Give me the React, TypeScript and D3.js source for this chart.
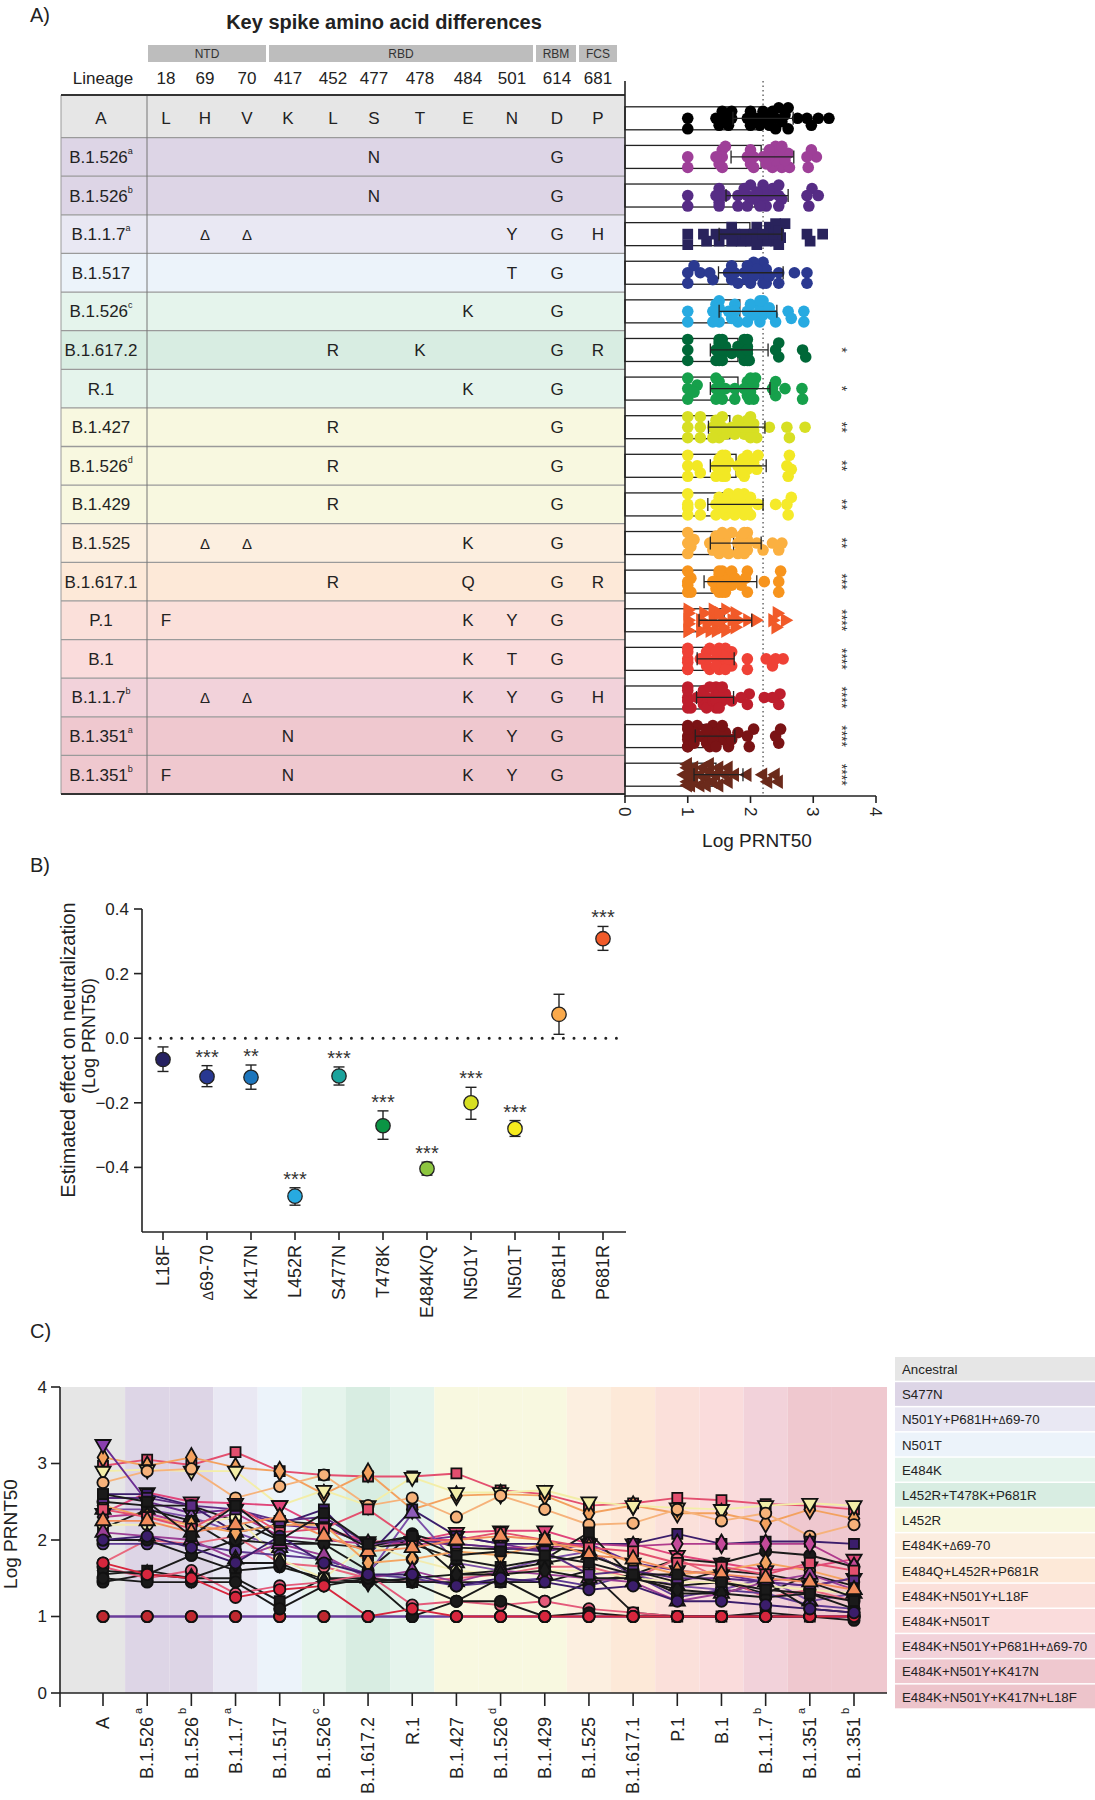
import React, { useEffect } from "react";
import * as d3 from "d3";

const FONT = "'Liberation Sans', Arial, Helvetica, sans-serif";
const W = 1095;
const H = 1800;

// ---------- Panel A: table ----------
const lineageNames = ["A", "B.1.526", "B.1.526", "B.1.1.7", "B.1.517", "B.1.526", "B.1.617.2", "R.1", "B.1.427", "B.1.526", "B.1.429", "B.1.525", "B.1.617.1", "P.1", "B.1", "B.1.1.7", "B.1.351", "B.1.351"];
const lineageSups = ["", "a", "b", "a", "", "c", "", "", "", "d", "", "", "", "", "", "b", "a", "b"];
const lineageFills = ["#e6e6e6", "#ddd5e6", "#ddd5e6", "#e9e8f3", "#ecf3fa", "#e5f4ec", "#d8ede2", "#e5f4ec", "#f8f8e0", "#f8f8e0", "#f8f8e0", "#fcefe0", "#fde9d8", "#fbe0da", "#fadcdc", "#f2d2da", "#efc8cf", "#efc8cf"];
const regionNames = ["NTD", "RBD", "RBM", "FCS"];
const regionFirst = ["18", "417", "614", "681"];
const regionLast = ["70", "501", "614", "681"];
const aaPositions = ["18", "69", "70", "417", "452", "477", "478", "484", "501", "614", "681"];
const ancestralResidues = ["L", "H", "V", "K", "L", "S", "T", "E", "N", "D", "P"];
const substitutions = [
  ["", "", "", "", "", "N", "", "", "", "G", ""],
  ["", "", "", "", "", "N", "", "", "", "G", ""],
  ["", "Δ", "Δ", "", "", "", "", "", "Y", "G", "H"],
  ["", "", "", "", "", "", "", "", "T", "G", ""],
  ["", "", "", "", "", "", "", "K", "", "G", ""],
  ["", "", "", "", "R", "", "K", "", "", "G", "R"],
  ["", "", "", "", "", "", "", "K", "", "G", ""],
  ["", "", "", "", "R", "", "", "", "", "G", ""],
  ["", "", "", "", "R", "", "", "", "", "G", ""],
  ["", "", "", "", "R", "", "", "", "", "G", ""],
  ["", "Δ", "Δ", "", "", "", "", "K", "", "G", ""],
  ["", "", "", "", "R", "", "", "Q", "", "G", "R"],
  ["F", "", "", "", "", "", "", "K", "Y", "G", ""],
  ["", "", "", "", "", "", "", "K", "T", "G", ""],
  ["", "Δ", "Δ", "", "", "", "", "K", "Y", "G", "H"],
  ["", "", "", "N", "", "", "", "K", "Y", "G", ""],
  ["F", "", "", "N", "", "", "", "K", "Y", "G", ""],
];
// column layout of the table (pixel centres of the residue columns)
const columnCentres = [166, 205, 247, 288, 333, 374, 420, 468, 512, 557, 598];

// ---------- Panel A: dot plot summaries ----------
const meanTitre = [2.18, 2.17, 2.07, 1.99, 1.97, 1.83, 1.80, 1.80, 1.67, 1.77, 1.73, 1.73, 1.66, 1.58, 1.43, 1.43, 1.43, 1.45];
const sdLow = [1.72, 1.69, 1.61, 1.50, 1.49, 1.50, 1.36, 1.36, 1.33, 1.36, 1.32, 1.36, 1.26, 1.18, 1.15, 1.14, 1.12, 1.10];
const sdHigh = [2.68, 2.69, 2.60, 2.50, 2.52, 2.42, 2.28, 2.31, 2.23, 2.25, 2.20, 2.17, 2.10, 2.02, 1.74, 1.73, 1.75, 1.88];
const rowStars = ["", "", "", "", "", "", "*", "*", "**", "**", "**", "**", "***", "****", "****", "****", "****", "****"];
const dotColors = ["#000000", "#9e3f98", "#562c85", "#29235c", "#2b3990", "#27aae1", "#006838", "#16a04b", "#d7df23", "#f2e824", "#f5ea2a", "#fbb040", "#f7941d", "#f15a29", "#ef4136", "#be1e2d", "#7a1315", "#6b2a1b"];
const dotShapes = ["circle", "circle", "circle", "square", "circle", "circle", "circle", "circle", "circle", "circle", "circle", "circle", "circle", "triRight", "circle", "circle", "circle", "triLeft"];
const refLine = 2.2;
const xTicksA = [0, 1, 2, 3, 4];

// ---------- Panel B ----------
const mutationNames = ["L18F", "Δ69-70", "K417N", "L452R", "S477N", "T478K", "E484K/Q", "N501Y", "N501T", "P681H", "P681R"];
const effectEstimate = [-0.066, -0.119, -0.121, -0.489, -0.117, -0.271, -0.404, -0.200, -0.280, 0.074, 0.308];
const effectLow = [-0.103, -0.150, -0.158, -0.517, -0.145, -0.313, -0.424, -0.251, -0.304, 0.012, 0.272];
const effectHigh = [-0.027, -0.085, -0.083, -0.463, -0.089, -0.225, -0.384, -0.152, -0.255, 0.136, 0.346];
const effectStars = ["", "***", "**", "***", "***", "***", "***", "***", "***", "", "***"];
const effectColors = ["#262262", "#283891", "#1c75bc", "#27aae1", "#1ba39c", "#0b9444", "#8dc63f", "#d7df23", "#f7ec1e", "#f9a94b", "#f15a29"];
const yTicksB = [0.4, 0.2, 0.0, -0.2, -0.4];

// ---------- Panel C: per-serum titres across lineages ----------
const serumTitres = [
  [2.97, 3.05, 2.98, 3.15, 2.90, 2.85, 2.83, 2.83, 2.87, 2.65, 2.60, 2.45, 2.48, 2.55, 2.52, 2.47, 2.45, 2.40],
  [3.08, 2.97, 3.08, 2.95, 2.90, 2.60, 2.88, 2.40, 2.58, 2.60, 2.58, 2.35, 2.45, 2.35, 2.35, 2.22, 2.40, 2.28],
  [2.90, 2.92, 2.90, 2.90, 2.45, 2.65, 2.45, 2.82, 2.62, 2.62, 2.65, 2.50, 2.45, 2.42, 2.40, 2.45, 2.48, 2.45],
  [2.75, 2.90, 2.93, 2.55, 2.70, 2.85, 2.45, 2.55, 2.30, 2.58, 2.40, 2.20, 2.22, 2.40, 2.25, 2.35, 2.05, 2.20],
  [3.25, 2.50, 2.35, 2.40, 2.20, 2.15, 1.95, 1.98, 2.05, 1.95, 1.85, 1.95, 1.70, 1.60, 1.55, 1.45, 1.40, 1.50],
  [2.35, 2.62, 2.50, 2.48, 2.45, 2.15, 1.98, 1.98, 2.10, 2.12, 2.12, 1.95, 1.95, 1.80, 1.70, 1.60, 1.65, 1.75],
  [2.60, 2.60, 2.45, 2.10, 2.20, 2.40, 1.80, 2.40, 2.05, 1.95, 1.95, 1.95, 1.95, 2.08, 1.95, 1.98, 1.98, 1.95],
  [2.50, 2.45, 2.45, 2.25, 2.00, 1.95, 1.60, 2.08, 1.90, 1.88, 1.90, 1.85, 1.55, 1.75, 1.70, 1.85, 1.80, 1.65],
  [2.30, 2.35, 2.20, 2.35, 2.05, 2.00, 1.95, 1.95, 1.95, 1.90, 1.90, 1.95, 1.92, 1.95, 1.95, 1.95, 1.95, 1.65],
  [2.40, 2.40, 2.30, 2.10, 1.90, 1.75, 1.55, 2.35, 1.70, 1.60, 1.75, 1.85, 1.55, 1.40, 1.35, 1.50, 1.20, 1.30],
  [2.15, 2.40, 2.25, 1.90, 2.25, 2.20, 1.90, 1.95, 1.75, 1.65, 1.75, 2.10, 1.50, 1.40, 1.45, 1.30, 1.55, 1.40],
  [1.70, 2.00, 1.95, 2.05, 1.70, 1.65, 1.50, 1.45, 1.50, 1.55, 1.65, 1.65, 1.50, 1.75, 1.50, 1.25, 1.35, 1.20],
  [1.95, 1.95, 1.95, 1.85, 1.80, 1.75, 1.55, 1.50, 1.40, 1.45, 1.50, 1.40, 1.55, 1.25, 1.35, 1.30, 1.15, 1.10],
  [1.45, 1.55, 1.80, 1.60, 1.65, 1.50, 1.45, 1.45, 1.20, 1.50, 1.20, 1.45, 1.55, 1.30, 1.30, 1.45, 1.10, 1.05],
  [1.55, 1.60, 1.50, 1.50, 1.20, 1.50, 1.50, 1.45, 1.45, 1.45, 1.45, 1.60, 1.05, 1.00, 1.00, 1.05, 1.00, 1.00],
  [1.65, 1.50, 1.60, 1.30, 1.40, 1.45, 1.55, 1.15, 1.20, 1.15, 1.20, 1.10, 1.05, 1.00, 1.00, 1.00, 1.00, 1.00],
  [1.00, 1.00, 1.00, 1.00, 1.00, 1.00, 1.00, 1.00, 1.00, 1.00, 1.00, 1.00, 1.00, 1.00, 1.00, 1.00, 1.00, 1.00],
  [1.00, 1.00, 1.00, 1.00, 1.00, 1.00, 1.00, 1.00, 1.00, 1.00, 1.00, 1.00, 1.00, 1.00, 1.00, 1.00, 1.00, 1.00],
  [2.20, 2.20, 2.20, 2.30, 1.75, 1.50, 1.95, 1.75, 1.60, 1.55, 1.60, 1.60, 1.50, 1.45, 1.45, 1.40, 1.35, 1.30],
  [2.00, 2.00, 1.80, 2.00, 1.95, 1.95, 1.90, 2.05, 1.55, 1.60, 1.70, 1.80, 1.60, 1.45, 1.60, 1.55, 1.45, 1.25],
  [2.45, 2.30, 2.20, 2.10, 2.20, 2.20, 1.70, 1.75, 1.85, 1.80, 1.95, 1.90, 1.70, 1.55, 1.60, 1.70, 1.60, 1.45],
  [2.10, 2.05, 2.00, 1.75, 1.95, 1.80, 1.50, 1.60, 1.45, 1.60, 1.55, 1.50, 1.45, 1.20, 1.30, 1.45, 1.55, 1.35],
  [1.60, 1.55, 1.50, 1.70, 1.70, 1.45, 1.45, 1.50, 1.55, 1.55, 1.60, 1.50, 1.50, 1.35, 1.30, 1.25, 1.30, 1.10],
  [2.55, 2.55, 2.45, 2.40, 2.25, 2.30, 1.95, 2.00, 1.95, 1.90, 1.85, 1.55, 1.60, 1.50, 1.50, 1.45, 1.40, 1.50],
  [2.40, 2.30, 2.15, 2.45, 2.10, 2.15, 2.40, 2.00, 2.00, 2.10, 2.00, 1.90, 1.85, 1.70, 1.65, 1.55, 1.70, 1.60],
  [1.50, 1.45, 1.45, 1.45, 1.10, 1.40, 1.50, 1.00, 1.20, 1.20, 1.00, 1.05, 1.00, 1.00, 1.00, 1.00, 1.00, 0.95],
  [1.70, 1.55, 1.50, 1.25, 1.35, 1.40, 1.00, 1.10, 1.00, 1.00, 1.00, 1.00, 1.00, 1.00, 1.00, 1.00, 1.00, 1.00],
  [2.25, 2.25, 2.10, 2.20, 2.30, 2.05, 1.85, 1.90, 2.00, 2.05, 2.00, 1.80, 1.75, 1.60, 1.55, 1.50, 1.45, 1.35],
  [2.00, 2.05, 1.90, 1.70, 2.05, 1.70, 1.55, 1.55, 1.40, 1.50, 1.45, 1.35, 1.40, 1.20, 1.20, 1.15, 1.10, 1.05],
  [2.60, 2.50, 2.05, 2.45, 2.00, 2.35, 1.95, 2.05, 1.80, 1.85, 1.80, 1.70, 1.55, 1.55, 1.45, 1.35, 1.30, 1.20],
];
const serumLineColors = ["#e34f6f", "#f3a15e", "#f3eea8", "#f6b27a", "#6a2c91", "#e0457b", "#3b1d6b", "#1a1a1a", "#b03a8c", "#7b4fa8", "#1a1a1a", "#e8687e", "#5e3a93", "#1a1a1a", "#1a1a1a", "#e45a7a", "#6a3d9a", "#6a3d9a", "#f2ecb0", "#1a1a1a", "#f4a460", "#9b3f96", "#1a1a1a", "#5b2c83", "#e3506e", "#1a1a1a", "#d7263d", "#f28c5b", "#3b1d6b", "#1a1a1a"];
const serumMarkerFills = ["#e34f6f", "#f3a15e", "#f3eea8", "#f6b27a", "#8a3fae", "#e0457b", "#3b1d6b", "#1a1a1a", "#c44a9a", "#8e5cb8", "#1a1a1a", "#e8687e", "#5e3a93", "#1a1a1a", "#1a1a1a", "#e45a7a", "#d62839", "#c0282f", "#f7f2b8", "#1a1a1a", "#f4a460", "#9b3f96", "#1a1a1a", "#5b2c83", "#e3506e", "#1a1a1a", "#d7263d", "#f28c5b", "#3b1d6b", "#1a1a1a"];
const serumMarkers = ["square", "diamond", "triangleDown", "circle", "triangleDown", "triangleDown", "square", "circle", "diamond", "triangle", "square", "circle", "circle", "circle", "square", "circle", "circle", "circle", "circle", "circle", "diamond", "triangle", "diamond", "square", "square", "circle", "circle", "triangle", "circle", "square"];
const yTicksC = [0, 1, 2, 3, 4];
const legendLabels = ["Ancestral", "S477N", "N501Y+P681H+Δ69-70", "N501T", "E484K", "L452R+T478K+P681R", "L452R", "E484K+Δ69-70", "E484Q+L452R+P681R", "E484K+N501Y+L18F", "E484K+N501T", "E484K+N501Y+P681H+Δ69-70", "E484K+N501Y+K417N", "E484K+N501Y+K417N+L18F"];
const legendFills = ["#e6e6e6", "#ddd5e6", "#e9e8f3", "#ecf3fa", "#e5f4ec", "#d8ede2", "#f8f8e0", "#fcefe0", "#fde9d8", "#fbe0da", "#fadcdc", "#f2d2da", "#efc8cf", "#edc4cb"];

function swarmOffsets(xs: number[], r: number, maxOff: number, step: number) {
  const order = d3.range(xs.length).sort((a, b) => xs[a] - xs[b]);
  const placed: { x: number; y: number }[] = [];
  const out: number[] = new Array(xs.length).fill(0);
  const nSteps = Math.floor(maxOff / step);
  for (const i of order) {
    const px = xs[i];
    let best = 0;
    let bestScore = Infinity;
    for (let k = 0; k <= nSteps * 2; k++) {
      const off = (k % 2 === 1 ? 1 : -1) * Math.ceil(k / 2) * step;
      let overlap = 0;
      for (const p of placed) {
        const d = Math.hypot(p.x - px, p.y - off);
        if (d < r) overlap += r - d;
      }
      if (overlap === 0) { best = off; bestScore = 0; break; }
      if (overlap < bestScore) { bestScore = overlap; best = off; }
    }
    placed.push({ x: px, y: best });
    out[i] = best;
  }
  return out;
}

const symbolPath = (shape: string, size: number) => {
  const t = shape === "square" ? d3.symbolSquare : shape === "diamond" ? d3.symbolDiamond : shape.startsWith("tri") ? d3.symbolTriangle : d3.symbolCircle;
  return d3.symbol().type(t).size(size)() as string;
};
const shapeRotation = (shape: string) => (shape === "triangleDown" ? 180 : shape === "triRight" ? 90 : shape === "triLeft" ? -90 : 0);

// render a label with a smaller Δ glyph, as in the reference
const withSmallDelta = (label: string, deltaSize: number) =>
  label.split(/(Δ)/).map((part, i) =>
    part === "Δ" ? (
      <tspan key={i} fontSize={deltaSize}>Δ</tspan>
    ) : (
      <tspan key={i}>{part}</tspan>
    )
  );

export default function App() {
  useEffect(() => {
    document.body.style.margin = "0";
  }, []);

  // ---- Panel A scales ----
  const rows = d3.range(lineageNames.length);
  const tableTop = 95;
  const tableBottom = 794;
  const rowBand = d3.scaleBand<number>().domain(rows).range([99, tableBottom]).paddingInner(0);
  const rowC = (i: number) => (rowBand(i) as number) + rowBand.bandwidth() / 2;
  const rowTop = (i: number) => (i === 0 ? tableTop : (rowBand(i) as number));
  const colX = d3.scaleOrdinal<string, number>().domain(aaPositions).range(columnCentres);
  const colLeftEdge = (j: number) => (j === 0 ? columnCentres[0] - (columnCentres[1] - columnCentres[0]) / 2 : (columnCentres[j - 1] + columnCentres[j]) / 2);
  const colRightEdge = (j: number) => {
    const n = columnCentres.length - 1;
    return j === n ? columnCentres[n] + (columnCentres[n] - columnCentres[n - 1]) / 2 : (columnCentres[j] + columnCentres[j + 1]) / 2;
  };
  const xA = d3.scaleLinear().domain([0, 4]).range([625, 876]);
  const tableL = 61;
  const tableR = 625;
  const lineageDiv = 147;

  // ---- Panel B scales ----
  const xB = d3.scalePoint<string>().domain(mutationNames).range([163, 603]);
  const yB = d3.scaleLinear().domain([-0.6, 0.4]).range([1232, 909]);

  // ---- Panel C scales ----
  const xC = d3.scalePoint<number>().domain(rows).range([103, 854]);
  const yC = d3.scaleLinear().domain([0, 4]).range([1693, 1387]);
  const cLeft = 60;
  const cRight = 887;
  const lineGen = d3.line<number>().x((_, i) => xC(i) as number).y((v) => yC(v));

  const textCol = "#222";

  return (
    <svg width={W} height={H} viewBox={`0 0 ${W} ${H}`} fontFamily={FONT} style={{ display: "block", position: "absolute", left: 0, top: 0, background: "#fff" }}>
      <rect x={0} y={0} width={W} height={H} fill="#fff" />
      {/* ================= PANEL A ================= */}
      <text x={30} y={22} fontSize={20} fill={textCol}>A)</text>
      <text x={384} y={29} fontSize={20} fontWeight="bold" textAnchor="middle" fill={textCol}>Key spike amino acid differences</text>
      {regionNames.map((r, k) => {
        const j0 = aaPositions.indexOf(regionFirst[k]);
        const j1 = aaPositions.indexOf(regionLast[k]);
        const x0 = colLeftEdge(j0) + 1.5;
        const x1 = colRightEdge(j1) - 1.5;
        return (
          <g key={r}>
            <rect x={x0} y={45} width={x1 - x0} height={17} fill="#bdbdbd" />
            <text x={(x0 + x1) / 2} y={58} fontSize={12} textAnchor="middle" fill="#333">{r}</text>
          </g>
        );
      })}
      <text x={103} y={84} fontSize={17} textAnchor="middle" fill={textCol}>Lineage</text>
      {aaPositions.map((p) => (
        <text key={p} x={colX(p)} y={84} fontSize={17} textAnchor="middle" fill={textCol}>{p}</text>
      ))}
      {rows.map((i) => (
        <rect key={"rf" + i} x={tableL} y={rowTop(i)} width={tableR - tableL} height={(rowBand(i) as number) + rowBand.bandwidth() - rowTop(i)} fill={lineageFills[i]} />
      ))}
      {rows.slice(1).map((i) => (
        <line key={"rl" + i} x1={tableL} x2={tableR} y1={rowBand(i)} y2={rowBand(i)} stroke="#9a9a9a" strokeWidth={1.3} />
      ))}
      <line x1={lineageDiv} x2={lineageDiv} y1={tableTop} y2={tableBottom} stroke="#777" strokeWidth={1} />
      <line x1={tableL} x2={tableL} y1={tableTop} y2={tableBottom} stroke="#999" strokeWidth={1} />
      <line x1={tableL} x2={tableR} y1={tableTop} y2={tableTop} stroke="#333" strokeWidth={2} />
      <line x1={tableL} x2={tableR} y1={tableBottom} y2={tableBottom} stroke="#333" strokeWidth={2} />
      {rows.map((i) => (
        <text key={"ln" + i} x={101} y={rowC(i) + 6} fontSize={17} textAnchor="middle" fill={textCol}>
          {lineageNames[i]}
          {lineageSups[i] ? (
            <tspan dy={-9} fontSize={9}>{lineageSups[i]}</tspan>
          ) : null}
        </text>
      ))}
      {ancestralResidues.map((a, k) => (
        <text key={"anc" + k} x={colX(aaPositions[k])} y={rowC(0) + 6} fontSize={17} textAnchor="middle" fill={textCol}>{a}</text>
      ))}
      {substitutions.map((row, ri) =>
        row.map((s, k) =>
          s ? (
            <text key={"s" + ri + "_" + k} x={colX(aaPositions[k])} y={rowC(ri + 1) + 6} fontSize={s === "Δ" ? 15 : 17} textAnchor="middle" fill={textCol}>{s}</text>
          ) : null
        )
      )}

      {/* dot plot bars */}
      {rows.map((i) => (
        <rect key={"bar" + i} x={xA(0)} y={rowC(i) - 11.5} width={xA(meanTitre[i]) - xA(0)} height={23} fill="#fff" stroke="#222" strokeWidth={1.3} />
      ))}
      <line x1={xA(refLine)} x2={xA(refLine)} y1={81} y2={796} stroke="#444" strokeWidth={1.2} strokeDasharray="1.5,3" />
      {rows.map((i) => {
        const vals = serumTitres.map((s) => s[i]);
        const xs = vals.map((v) => xA(v));
        const offs = swarmOffsets(xs, 7.5, 11, 3.5);
        return (
          <g key={"dots" + i}>
            {vals.map((v, j) =>
              dotShapes[i] === "circle" ? (
                <circle key={j} cx={xs[j]} cy={rowC(i) + offs[j]} r={5.8} fill={dotColors[i]} />
              ) : (
                <path key={j} d={symbolPath(dotShapes[i], dotShapes[i] === "square" ? 115 : 90)} transform={`translate(${xs[j]},${rowC(i) + offs[j]}) rotate(${shapeRotation(dotShapes[i])})`} fill={dotColors[i]} />
              )
            )}
          </g>
        );
      })}
      {rows.map((i) => (
        <g key={"err" + i} stroke="#222" strokeWidth={1.3}>
          <line x1={xA(sdLow[i])} x2={xA(sdHigh[i])} y1={rowC(i)} y2={rowC(i)} />
          <line x1={xA(sdLow[i])} x2={xA(sdLow[i])} y1={rowC(i) - 6.5} y2={rowC(i) + 6.5} />
          <line x1={xA(sdHigh[i])} x2={xA(sdHigh[i])} y1={rowC(i) - 6.5} y2={rowC(i) + 6.5} />
        </g>
      ))}
      {rows.map((i) =>
        rowStars[i] ? (
          <text key={"st" + i} transform={`translate(837,${rowC(i)}) rotate(90)`} fontSize={14} textAnchor="middle" fill="#333">{rowStars[i]}</text>
        ) : null
      )}
      <line x1={xA(0)} x2={xA(0)} y1={81} y2={797} stroke="#222" strokeWidth={1.6} />
      <line x1={xA(0)} x2={xA(4)} y1={796} y2={796} stroke="#222" strokeWidth={1.6} />
      {xTicksA.map((t) => (
        <g key={"xa" + t}>
          <line x1={xA(t)} x2={xA(t)} y1={796} y2={803} stroke="#222" strokeWidth={1.6} />
          <text transform={`translate(${xA(t)},807) rotate(90)`} dy="0.35em" fontSize={17} fill={textCol}>{t}</text>
        </g>
      ))}
      <text x={757} y={847} fontSize={19} textAnchor="middle" fill={textCol}>Log PRNT50</text>

      {/* ================= PANEL B ================= */}
      <text x={30} y={872} fontSize={20} fill={textCol}>B)</text>
      <line x1={142} x2={142} y1={yB(0.4)} y2={yB(-0.6)} stroke="#222" strokeWidth={1.6} />
      <line x1={142} x2={626} y1={yB(-0.6)} y2={yB(-0.6)} stroke="#222" strokeWidth={1.6} />
      {yTicksB.map((t) => (
        <g key={"yb" + t}>
          <line x1={134} x2={142} y1={yB(t)} y2={yB(t)} stroke="#222" strokeWidth={1.6} />
          <text x={129} y={yB(t)} dy="0.35em" fontSize={17} textAnchor="end" fill={textCol}>{t === 0 ? "0.0" : d3.format(".1f")(t)}</text>
        </g>
      ))}
      <line x1={150} x2={620} y1={yB(0)} y2={yB(0)} stroke="#222" strokeWidth={3} strokeDasharray="0,10.6" strokeLinecap="round" />
      {mutationNames.map((m, k) => {
        const cx = xB(m) as number;
        return (
          <g key={"mb" + k}>
            <line x1={cx} x2={cx} y1={yB(-0.6)} y2={yB(-0.6) + 8} stroke="#222" strokeWidth={1.6} />
            <text transform={`translate(${cx},${yB(-0.6) + 13}) rotate(-90)`} dy="0.35em" fontSize={18} textAnchor="end" fill={textCol}>{withSmallDelta(m, 14)}</text>
            <g stroke="#222" strokeWidth={1.4}>
              <line x1={cx} x2={cx} y1={yB(effectLow[k])} y2={yB(effectHigh[k])} />
              <line x1={cx - 5.5} x2={cx + 5.5} y1={yB(effectLow[k])} y2={yB(effectLow[k])} />
              <line x1={cx - 5.5} x2={cx + 5.5} y1={yB(effectHigh[k])} y2={yB(effectHigh[k])} />
            </g>
            <circle cx={cx} cy={yB(effectEstimate[k])} r={7.2} fill={effectColors[k]} stroke="#222" strokeWidth={1.3} />
            {effectStars[k] ? (
              <text x={cx} y={yB(effectHigh[k]) - 2} fontSize={20} textAnchor="middle" fill="#333">{effectStars[k]}</text>
            ) : null}
          </g>
        );
      })}
      <text transform="translate(68,1050) rotate(-90)" dy="0.35em" fontSize={20} textAnchor="middle" fill={textCol}>Estimated effect on neutralization</text>
      <text transform="translate(89,1036) rotate(-90)" dy="0.35em" fontSize={18} textAnchor="middle" fill={textCol}>(Log PRNT50)</text>

      {/* ================= PANEL C ================= */}
      <text x={30} y={1338} fontSize={20} fill={textCol}>C)</text>
      {rows.map((i) => {
        const x0 = i === 0 ? cLeft : ((xC(i - 1) as number) + (xC(i) as number)) / 2;
        const x1 = i === rows.length - 1 ? cRight : ((xC(i) as number) + (xC(i + 1) as number)) / 2;
        return <rect key={"cb" + i} x={x0} y={yC(4)} width={x1 - x0} height={yC(0) - yC(4)} fill={lineageFills[i]} />;
      })}
      {serumTitres.map((s, k) => (
        <path key={"cl" + k} d={lineGen(s) as string} fill="none" stroke={serumLineColors[k]} strokeWidth={1.9} />
      ))}
      {serumTitres.map((s, k) => (
        <g key={"cm" + k}>
          {s.map((v, i) => (
            <path key={i} d={symbolPath(serumMarkers[k], 100)} transform={`translate(${xC(i)},${yC(v)}) rotate(${shapeRotation(serumMarkers[k])})`} fill={serumMarkerFills[k]} stroke="#111" strokeWidth={1.8} />
          ))}
        </g>
      ))}
      <line x1={cLeft} x2={cLeft} y1={yC(4)} y2={yC(0) + 14} stroke="#222" strokeWidth={1.6} />
      <line x1={cLeft} x2={cRight} y1={yC(0)} y2={yC(0)} stroke="#222" strokeWidth={1.6} />
      {yTicksC.map((t) => (
        <g key={"yc" + t}>
          <line x1={cLeft - 9} x2={cLeft} y1={yC(t)} y2={yC(t)} stroke="#222" strokeWidth={1.6} />
          <text x={cLeft - 13} y={yC(t)} dy="0.35em" fontSize={17} textAnchor="end" fill={textCol}>{t}</text>
        </g>
      ))}
      {rows.map((i) => {
        const cx = xC(i) as number;
        return (
          <g key={"xc" + i}>
            <line x1={cx} x2={cx} y1={yC(0)} y2={yC(0) + 13} stroke="#222" strokeWidth={1.6} />
            <g transform={`translate(${cx},${yC(0) + 24}) rotate(-90)`}>
              <text x={0} y={0} dy="0.35em" fontSize={18} textAnchor="end" fill={textCol}>{lineageNames[i]}</text>
              {lineageSups[i] ? (
                <text x={3} y={-5} fontSize={11} textAnchor="start" fill={textCol}>{lineageSups[i]}</text>
              ) : null}
            </g>
          </g>
        );
      })}
      <text transform="translate(10,1534) rotate(-90)" dy="0.35em" fontSize={19} textAnchor="middle" fill={textCol}>Log PRNT50</text>
      {legendLabels.map((l, k) => {
        const h = 25.2;
        const y0 = 1357 + k * h;
        return (
          <g key={"lg" + k}>
            <rect x={895} y={y0} width={200} height={h - 1.5} fill={legendFills[k]} />
            <text x={902} y={y0 + 17} fontSize={13.3} fill={textCol}>{withSmallDelta(l, 10)}</text>
          </g>
        );
      })}
    </svg>
  );
}
